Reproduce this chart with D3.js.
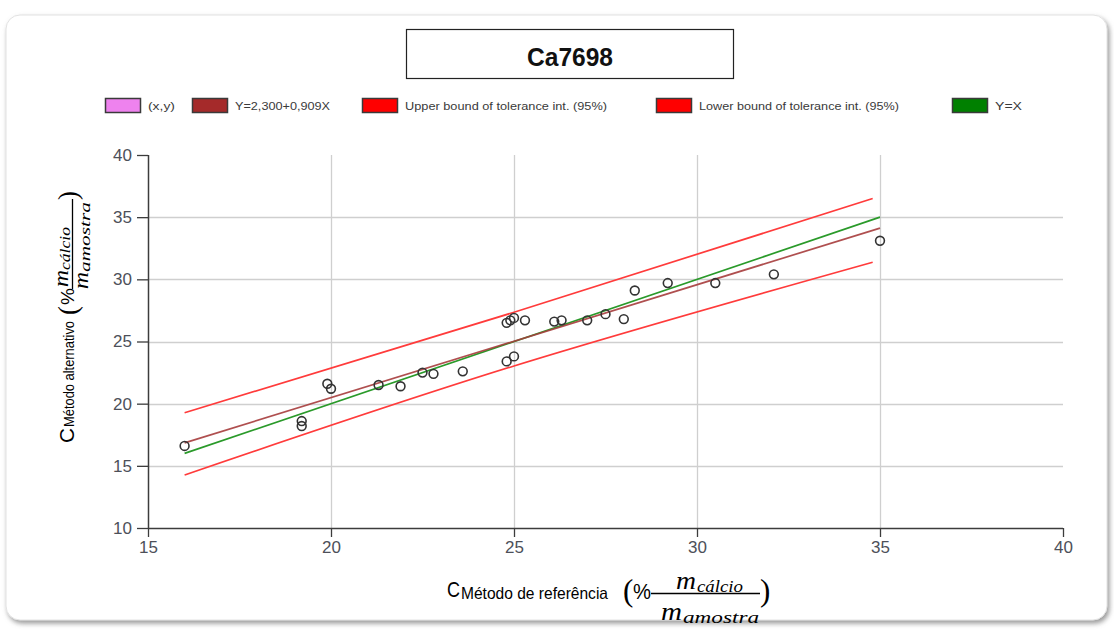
<!DOCTYPE html>
<html>
<head>
<meta charset="utf-8">
<script src="https://cdn.jsdelivr.net/npm/d3@7/dist/d3.min.js"></script>
<style>
  html, body { margin: 0; padding: 0; background: #ffffff; }
  svg { display: block; }
</style>
</head>
<body>
<svg id="chart" width="1114" height="630"></svg>
<script>
// ---------------- DATA ----------------
const chartTitle = "Ca7698";
const xRef = [16.0, 19.2, 19.2, 19.9, 20.0, 21.3, 21.9, 22.5, 22.8, 23.6, 24.8, 24.9, 25.0, 25.3, 26.1, 26.3, 27.0, 27.5, 28.0, 28.3, 29.2, 30.5, 32.1, 24.8, 25.0, 35.0];
const yAlt = [16.6, 18.6, 18.2, 21.6, 21.2, 21.5, 21.4, 22.5, 22.4, 22.6, 26.5, 26.7, 26.9, 26.7, 26.6, 26.7, 26.7, 27.2, 26.8, 29.1, 29.7, 29.7, 30.4, 23.4, 23.8, 33.1];
const regIntercept = 2.300;
const regSlope = 0.909;
const lineXRange = [16, 35];
const boundX = [16, 25, 34.8];
const upperBound = [19.27, 27.35, 36.5];
const lowerBound = [14.26, 23.03, 31.37];
const xTicks = [15, 20, 25, 30, 35, 40];
const yTicks = [10, 15, 20, 25, 30, 35, 40];
const legendLabels = ["(x,y)", "Y=2,300+0,909X", "Upper bound of tolerance int. (95%)", "Lower bound of tolerance int. (95%)", "Y=X"];
const legendColors = ["#ee82ee", "#a52a2a", "#ff0000", "#ff0000", "#008000"];

// ---------------- LAYOUT ----------------
const svg = d3.select("#chart");
const plot = { left: 148, right: 1063, top: 155, bottom: 528 };
const x = d3.scaleLinear().domain([15, 40]).range([plot.left, plot.right]);
const y = d3.scaleLinear().domain([10, 40]).range([plot.bottom, plot.top]);

// card with shadow
const defs = svg.append("defs");
const f = defs.append("filter").attr("id", "shadow").attr("x", "-5%").attr("y", "-5%").attr("width", "110%").attr("height", "115%");
f.append("feDropShadow").attr("dx", 2).attr("dy", 3).attr("stdDeviation", 2.5)
  .attr("flood-color", "#777").attr("flood-opacity", 0.75);
svg.append("rect").attr("x", 6).attr("y", 15).attr("width", 1101).attr("height", 605)
  .attr("rx", 14).attr("fill", "#fff").attr("stroke", "#e2e2e2").attr("stroke-width", 1)
  .attr("filter", "url(#shadow)");

// title box
svg.append("rect").attr("x", 406.5).attr("y", 29.5).attr("width", 327).attr("height", 49)
  .attr("fill", "#fff").attr("stroke", "#222").attr("stroke-width", 1.2);
svg.append("text").attr("x", 570).attr("y", 66).attr("text-anchor", "middle")
  .attr("font-family", "'Liberation Sans Narrow', 'Liberation Sans', sans-serif")
  .attr("font-weight", "bold").attr("font-size", 26).attr("fill", "#111")
  .attr("textLength", 86).attr("lengthAdjust", "spacingAndGlyphs")
  .text(chartTitle);

// legend
const legendSwatchX = [105, 192, 362, 656, 952];
const legendTextW = [27, 95, 202, 200, 27];
const leg = svg.append("g").attr("class", "legend");
legendLabels.forEach((lab, i) => {
  leg.append("rect").attr("x", legendSwatchX[i] + 0.5).attr("y", 98.5).attr("width", 35).attr("height", 14)
    .attr("fill", legendColors[i]).attr("stroke", "#3a3a3a").attr("stroke-width", 1.5);
  leg.append("text").attr("x", legendSwatchX[i] + 43).attr("y", 110)
    .attr("font-family", "'Liberation Sans', Arial, sans-serif").attr("font-size", 11.5)
    .attr("fill", "#3a3a3a").attr("textLength", legendTextW[i]).attr("lengthAdjust", "spacingAndGlyphs")
    .text(lab);
});

// gridlines
const grid = svg.append("g").attr("class", "grid");
grid.selectAll("line.gx").data(xTicks.filter(d => d > 15 && d < 40)).enter().append("line")
  .attr("x1", d => Math.round(x(d)) + 0.5).attr("x2", d => Math.round(x(d)) + 0.5)
  .attr("y1", plot.top).attr("y2", plot.bottom)
  .attr("stroke", "#cfcfcf").attr("stroke-width", 1.3);
grid.selectAll("line.gy").data(yTicks.filter(d => d > 10 && d < 40)).enter().append("line")
  .attr("x1", plot.left).attr("x2", plot.right)
  .attr("y1", d => Math.round(y(d)) + 0.5).attr("y2", d => Math.round(y(d)) + 0.5)
  .attr("stroke", "#cfcfcf").attr("stroke-width", 1.3);

// axes
const xAxis = d3.axisBottom(x).tickValues(xTicks).tickSize(9).tickPadding(4).tickFormat(d3.format("d"));
const yAxis = d3.axisLeft(y).tickValues(yTicks).tickSize(11).tickPadding(5).tickFormat(d3.format("d"));
const gx = svg.append("g").attr("transform", `translate(0,${plot.bottom})`).call(xAxis);
const gy = svg.append("g").attr("transform", `translate(${plot.left},0)`).call(yAxis);
[gx, gy].forEach(g => {
  g.select(".domain").attr("stroke", "#3c3c3c").attr("stroke-width", 1.5);
  g.selectAll(".tick line").attr("stroke", "#3c3c3c").attr("stroke-width", 1.3);
  g.selectAll(".tick text").attr("font-family", "'Liberation Sans', Arial, sans-serif")
    .attr("font-size", 17).attr("fill", "#4d5059");
});
gy.select(".domain").attr("d", `M0.5,${plot.top}V${plot.bottom}`);
gx.select(".domain").attr("d", `M${plot.left},0.5H${plot.right}`);

// lines
const lineGen = d3.line().x(d => x(d[0])).y(d => y(d[1]));
const curveGen = d3.line().x(d => x(d[0])).y(d => y(d[1])).curve(d3.curveNatural);
const lines = svg.append("g");
lines.append("path").datum(boundX.map((v, i) => [v, upperBound[i]])).attr("d", curveGen)
  .attr("fill", "none").attr("stroke", "#ff3b3b").attr("stroke-width", 1.7);
lines.append("path").datum(boundX.map((v, i) => [v, lowerBound[i]])).attr("d", curveGen)
  .attr("fill", "none").attr("stroke", "#ff3b3b").attr("stroke-width", 1.7);
lines.append("path").datum(lineXRange.map(v => [v, v])).attr("d", lineGen)
  .attr("fill", "none").attr("stroke", "#2a9a2a").attr("stroke-width", 1.7);
lines.append("path").datum(lineXRange.map(v => [v, regIntercept + regSlope * v])).attr("d", lineGen)
  .attr("fill", "none").attr("stroke", "#a63c3c").attr("stroke-width", 1.7).attr("opacity", 0.9);

// points
svg.append("g").selectAll("circle").data(xRef.map((v, i) => [v, yAlt[i]])).enter().append("circle")
  .attr("cx", d => x(d[0])).attr("cy", d => y(d[1])).attr("r", 4.4)
  .attr("fill", "none").attr("stroke", "#333").attr("stroke-width", 1.6);

// ---------------- AXIS LABELS ----------------
const sans = "'Liberation Sans', Arial, sans-serif";
const serifIt = "'Liberation Serif', 'DejaVu Serif', serif";
function txt(g, s, xx, yy, size, opts = {}) {
  const t = g.append("text").attr("x", xx).attr("y", yy).attr("font-size", size)
    .attr("font-family", opts.serif ? serifIt : sans).attr("fill", "#000").text(s);
  if (opts.italic) t.attr("font-style", "italic");
  if (opts.len) t.attr("textLength", opts.len).attr("lengthAdjust", "spacingAndGlyphs");
  return t;
}
// x label
const xl = svg.append("g");
txt(xl, "C", 447, 597, 22, { len: 13 });
txt(xl, "Método de referência", 461, 599, 16.5, { len: 147 });
txt(xl, "(", 623, 601, 31, { serif: true });
txt(xl, "%", 633, 599, 22, { len: 18 });
xl.append("line").attr("x1", 651).attr("x2", 760).attr("y1", 593.5).attr("y2", 593.5)
  .attr("stroke", "#000").attr("stroke-width", 1.4);
txt(xl, "m", 676, 589, 25, { serif: true, italic: true, len: 20 });
txt(xl, "cálcio", 697, 592, 16, { serif: true, italic: true, len: 46 });
txt(xl, "m", 661, 620, 25, { serif: true, italic: true, len: 21 });
txt(xl, "amostra", 683, 623, 16, { serif: true, italic: true, len: 76 });
txt(xl, ")", 760, 601, 31, { serif: true });

// y label (rotated)
const yl = svg.append("g").attr("transform", "rotate(-90)");
txt(yl, "C", -443, 74, 20, { len: 15 });
txt(yl, "Método alternativo", -427, 74, 15.5, { len: 106 });
txt(yl, "(", -315, 77, 27, { serif: true });
txt(yl, "%", -305, 74, 18, { len: 17 });
yl.append("line").attr("x1", -289).attr("x2", -199).attr("y1", 72.5).attr("y2", 72.5)
  .attr("stroke", "#000").attr("stroke-width", 1.3);
txt(yl, "m", -287, 68, 21, { serif: true, italic: true, len: 17 });
txt(yl, "cálcio", -270, 70, 14, { serif: true, italic: true, len: 43 });
txt(yl, "m", -289, 88, 21, { serif: true, italic: true, len: 17 });
txt(yl, "amostra", -272, 90, 14, { serif: true, italic: true, len: 70 });
txt(yl, ")", -200, 77, 27, { serif: true });
</script>
</body>
</html>
